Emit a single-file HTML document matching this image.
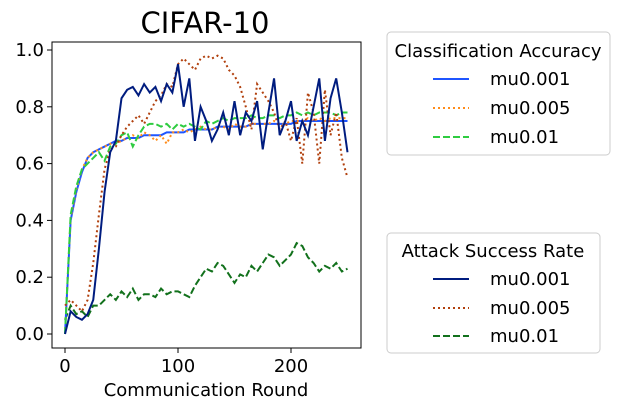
<!DOCTYPE html>
<html><head><meta charset="utf-8"><style>
body{margin:0;background:#fff;}
svg text{font-family:"DejaVu Sans","Liberation Sans",sans-serif;fill:#000;}
</style></head><body>
<svg id="c" width="636" height="411" viewBox="0 0 636 411">
<text x="205" y="33" font-size="29" text-anchor="middle">CIFAR-10</text>
<g id="plot"></g>
<rect x="52" y="42" width="309" height="306" fill="none" stroke="#000" stroke-width="1"/>
<text x="206" y="396" font-size="18" text-anchor="middle">Communication Round</text>
<g>
<rect x="387" y="32" width="223" height="123" rx="4" fill="#fff" stroke="#ccc"/>
<text x="498" y="57" font-size="18" text-anchor="middle">Classification Accuracy</text>
<line x1="433" y1="79" x2="469" y2="79" stroke="#1f55ff" stroke-width="2"/>
<text x="490" y="85" font-size="18">mu0.001</text>
<line x1="433" y1="108" x2="469" y2="108" stroke="#ff8c1a" stroke-width="2" stroke-dasharray="2,3"/>
<text x="490" y="114" font-size="18">mu0.005</text>
<line x1="433" y1="137" x2="469" y2="137" stroke="#2ecc40" stroke-width="2" stroke-dasharray="7,3"/>
<text x="490" y="143" font-size="18">mu0.01</text>
</g>
<g>
<rect x="387" y="233" width="213" height="120" rx="4" fill="#fff" stroke="#ccc"/>
<text x="493" y="257" font-size="18" text-anchor="middle">Attack Success Rate</text>
<line x1="433" y1="279" x2="469" y2="279" stroke="#001c7f" stroke-width="2"/>
<text x="490" y="285" font-size="18">mu0.001</text>
<line x1="433" y1="308" x2="469" y2="308" stroke="#b1400d" stroke-width="2" stroke-dasharray="2,3"/>
<text x="490" y="314" font-size="18">mu0.005</text>
<line x1="433" y1="336" x2="469" y2="336" stroke="#12711c" stroke-width="2" stroke-dasharray="7,3"/>
<text x="490" y="342" font-size="18">mu0.01</text>
</g>
</svg>
<script>
const rounds=[];for(let r=0;r<=250;r+=5)rounds.push(r);
const xTicks=[0,100,200];
const yTicks=[0.0,0.2,0.4,0.6,0.8,1.0];
const accMu001=[0,0.4,0.5,0.57,0.62,0.64,0.65,0.66,0.67,0.68,0.68,0.69,0.69,0.69,0.7,0.7,0.7,0.7,0.71,0.71,0.71,0.71,0.72,0.72,0.72,0.72,0.72,0.73,0.73,0.73,0.73,0.73,0.73,0.74,0.74,0.74,0.74,0.74,0.74,0.74,0.74,0.75,0.75,0.75,0.75,0.75,0.75,0.75,0.75,0.75,0.75];
const accMu005=[0,0.41,0.51,0.58,0.62,0.64,0.65,0.66,0.67,0.67,0.68,0.69,0.7,0.69,0.71,0.7,0.68,0.7,0.67,0.71,0.71,0.72,0.71,0.72,0.73,0.72,0.72,0.73,0.73,0.72,0.74,0.73,0.73,0.74,0.74,0.74,0.74,0.75,0.74,0.74,0.75,0.75,0.75,0.76,0.75,0.76,0.75,0.76,0.76,0.76,0.76];
const accMu01=[0,0.42,0.52,0.58,0.6,0.62,0.64,0.61,0.66,0.67,0.7,0.71,0.66,0.7,0.73,0.74,0.74,0.73,0.74,0.72,0.74,0.73,0.74,0.73,0.72,0.75,0.74,0.75,0.76,0.75,0.76,0.76,0.76,0.77,0.76,0.76,0.77,0.77,0.76,0.77,0.77,0.78,0.77,0.78,0.77,0.78,0.78,0.78,0.77,0.78,0.78];
const asrMu001=[0,0.08,0.06,0.05,0.07,0.12,0.3,0.5,0.64,0.68,0.83,0.86,0.87,0.84,0.88,0.85,0.87,0.82,0.88,0.85,0.95,0.8,0.9,0.68,0.8,0.75,0.68,0.72,0.78,0.7,0.82,0.7,0.78,0.75,0.82,0.65,0.78,0.9,0.7,0.75,0.82,0.68,0.75,0.7,0.8,0.9,0.68,0.83,0.9,0.78,0.64];
const asrMu005=[0.1,0.12,0.1,0.08,0.12,0.25,0.42,0.58,0.65,0.66,0.7,0.73,0.75,0.77,0.74,0.78,0.82,0.84,0.88,0.87,0.95,0.97,0.95,0.93,0.97,0.98,0.97,0.98,0.97,0.93,0.91,0.87,0.8,0.72,0.88,0.85,0.82,0.78,0.72,0.75,0.68,0.76,0.6,0.85,0.78,0.6,0.86,0.7,0.78,0.62,0.55];
const asrMu01=[0.05,0.1,0.07,0.08,0.06,0.1,0.1,0.12,0.14,0.12,0.15,0.13,0.16,0.12,0.14,0.14,0.13,0.16,0.14,0.15,0.15,0.14,0.13,0.17,0.2,0.23,0.22,0.25,0.24,0.21,0.18,0.21,0.2,0.24,0.22,0.25,0.28,0.27,0.24,0.26,0.28,0.32,0.31,0.27,0.25,0.22,0.24,0.23,0.25,0.22,0.23];
const NS="http://www.w3.org/2000/svg";
const X=r=>65+r*1.13, Y=v=>334-v*284;
const g=document.getElementById('plot');
function mk(t,a){const e=document.createElementNS(NS,t);for(const k in a)e.setAttribute(k,a[k]);g.appendChild(e);return e;}
xTicks.forEach(t=>{
 const l=mk('line',{x1:X(t),x2:X(t),y1:348,y2:353,stroke:'#000'});
 
 
 const s=mk('text',{x:X(t),y:372,'font-size':18,'text-anchor':'middle'});s.textContent=t;
 
 
});
yTicks.forEach(t=>{
 const l=mk('line',{x1:47,x2:52,y1:Y(t),y2:Y(t),stroke:'#000'});
 
 
 const s=mk('text',{x:44,y:Y(t)+6,'font-size':18,'text-anchor':'end'});s.textContent=t.toFixed(1);
 
 
});
function line(vals,col,dash,name){
 const p=mk('polyline',{points:vals.map((v,i)=>X(rounds[i])+','+Y(v)).join(' '),fill:'none',stroke:col,'stroke-width':2,'stroke-dasharray':dash});
 
 
}
line(asrMu01,'#12711c','7,3','asr-mu0.01-line');
line(accMu001,'#1f55ff','none','acc-mu0.001-line');
line(accMu005,'#ff8c1a','2,3','acc-mu0.005-line');
line(accMu01,'#2ecc40','7,3','acc-mu0.01-line');
line(asrMu005,'#b1400d','2,3','asr-mu0.005-line');
line(asrMu001,'#001c7f','none','asr-mu0.001-line');
</script>
</body></html>
